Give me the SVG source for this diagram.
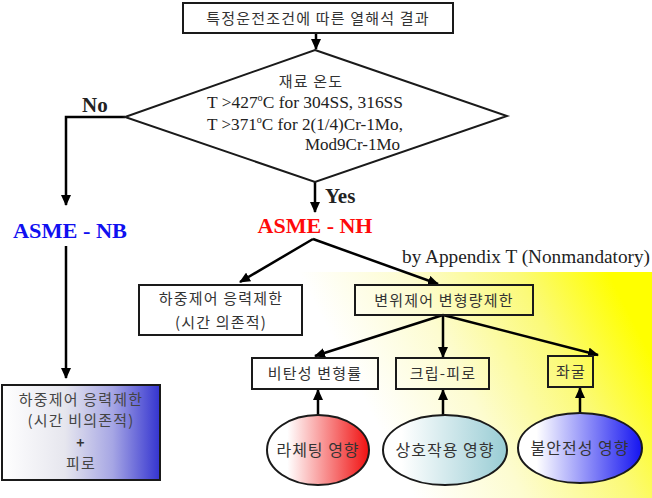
<svg xmlns="http://www.w3.org/2000/svg" width="652" height="498" viewBox="0 0 652 498">
<style>
.box{fill:none;stroke:#1a1a1a;stroke-width:2}
.kr{font-family:"Noto Sans CJK KR","Noto Sans",sans-serif;font-size:15px;fill:#333;text-anchor:middle;letter-spacing:1.2px}
.tm{font-family:"Liberation Serif",serif;fill:#222}
.bold{font-weight:bold}
.conn{stroke:#000;stroke-width:2.5;fill:none}
</style>
<defs>
<marker id="ah" markerUnits="userSpaceOnUse" markerWidth="12" markerHeight="10" refX="10" refY="5" orient="auto">
<path d="M0,0 L11,5 L0,10 Z" fill="#000"/>
</marker>
<linearGradient id="yel" gradientUnits="userSpaceOnUse" x1="360" y1="498" x2="648" y2="350">
<stop offset="0" stop-color="#ffffff"/>
<stop offset="0.15" stop-color="#ffffff"/>
<stop offset="0.45" stop-color="#fdfcd0"/>
<stop offset="0.75" stop-color="#fbfa78"/>
<stop offset="1" stop-color="#ffff00"/>
</linearGradient>
<linearGradient id="blue" x1="0" y1="0" x2="1" y2="0">
<stop offset="0" stop-color="#ffffff"/>
<stop offset="0.4" stop-color="#e6e6ee"/>
<stop offset="0.7" stop-color="#a6a6e4"/>
<stop offset="1" stop-color="#3434d0"/>
</linearGradient>
<linearGradient id="red" x1="0" y1="0" x2="1" y2="0">
<stop offset="0.2" stop-color="#ffffff"/>
<stop offset="1" stop-color="#f01010"/>
</linearGradient>
<linearGradient id="teal" x1="0" y1="0" x2="1" y2="0">
<stop offset="0.15" stop-color="#ffffff"/>
<stop offset="1" stop-color="#98ccd4"/>
</linearGradient>
<linearGradient id="blu2" x1="0" y1="0" x2="1" y2="0">
<stop offset="0.15" stop-color="#ffffff"/>
<stop offset="1" stop-color="#1414f0"/>
</linearGradient>
</defs>
<rect width="652" height="498" fill="#fff"/>
<rect x="170" y="272" width="482" height="226" fill="url(#yel)"/>

<g id="connectors">
<line class="conn" x1="316" y1="33" x2="316" y2="49" marker-end="url(#ah)"/>
<polyline class="conn" points="125,117 66,117 66,205" marker-end="url(#ah)"/>
<line class="conn" x1="66" y1="246" x2="66" y2="378" marker-end="url(#ah)"/>
<line class="conn" x1="315" y1="182" x2="315" y2="212" marker-end="url(#ah)"/>
<line class="conn" x1="313" y1="239" x2="240" y2="282" marker-end="url(#ah)"/>
<line class="conn" x1="313" y1="239" x2="438" y2="284" marker-end="url(#ah)"/>
<line class="conn" x1="443" y1="315" x2="315" y2="356" marker-end="url(#ah)"/>
<line class="conn" x1="443" y1="315" x2="443" y2="357" marker-end="url(#ah)"/>
<line class="conn" x1="443" y1="315" x2="598" y2="355" marker-end="url(#ah)"/>
<line class="conn" x1="318" y1="415" x2="318" y2="390" marker-end="url(#ah)"/>
<line class="conn" x1="443" y1="415" x2="443" y2="390" marker-end="url(#ah)"/>
<line class="conn" x1="580" y1="413" x2="580" y2="388" marker-end="url(#ah)"/>
</g>

<g id="n-top">
<rect class="box" x="183" y="3" width="270" height="30" fill="#fff"/>
<text class="kr" x="318" y="24">특정운전조건에 따른 열해석 결과</text>
</g>

<g id="n-diamond">
<polygon points="315,50 507,116 315,182 125,117" fill="#fff" stroke="#1a1a1a" stroke-width="2"/>
<text class="kr" x="311" y="87">재료 온도</text>
<text class="tm" x="207" y="108" font-size="17" textLength="196" lengthAdjust="spacingAndGlyphs">T &gt;427<tspan font-size="10" dy="-7">o</tspan><tspan dy="7">C for 304SS, 316SS</tspan></text>
<text class="tm" x="207" y="130" font-size="17" textLength="196" lengthAdjust="spacingAndGlyphs">T &gt;371<tspan font-size="10" dy="-7">o</tspan><tspan dy="7">C for 2(1/4)Cr-1Mo,</tspan></text>
<text class="tm" x="305" y="150" font-size="17" textLength="95" lengthAdjust="spacingAndGlyphs">Mod9Cr-1Mo</text>
</g>

<g id="l-no"><text class="tm bold" x="82" y="112" font-size="21" fill="#000">No</text></g>
<g id="l-yes"><text class="tm bold" x="325" y="203" font-size="21">Yes</text></g>

<g id="n-nb"><text class="tm bold" x="70" y="238" font-size="22" text-anchor="middle" style="fill:#1010f0" textLength="114" lengthAdjust="spacingAndGlyphs">ASME - NB</text></g>
<g id="n-nh"><text class="tm bold" x="315" y="233" font-size="22" text-anchor="middle" style="fill:#ff0a0a" textLength="115" lengthAdjust="spacingAndGlyphs">ASME - NH</text></g>

<g id="l-appendix"><text class="tm" x="402" y="263" font-size="19" textLength="248" lengthAdjust="spacingAndGlyphs">by Appendix T (Nonmandatory)</text></g>

<g id="n-load">
<rect class="box" x="139" y="285" width="163" height="50" fill="#fff"/>
<text class="kr" x="221" y="304">하중제어 응력제한</text>
<text class="kr" x="221" y="328">(시간 의존적)</text>
</g>

<g id="n-disp">
<rect class="box" x="355" y="285" width="178" height="30"/>
<text class="kr" x="444" y="306">변위제어 변형량제한</text>
</g>

<g id="n-inel">
<rect class="box" x="252" y="358" width="126" height="31"/>
<text class="kr" x="315" y="379">비탄성 변형률</text>
</g>

<g id="n-creep">
<rect class="box" x="396" y="358" width="93" height="31"/>
<text class="kr" x="443" y="379">크립-피로</text>
</g>

<g id="n-buck">
<rect class="box" x="548" y="356" width="45" height="31"/>
<text class="kr" x="571" y="377">좌굴</text>
</g>

<g id="n-nbbox">
<rect x="2" y="385" width="158" height="95" fill="url(#blue)" stroke="#1a1a1a" stroke-width="2"/>
<text class="kr" x="81" y="405" style="fill:#444">하중제어 응력제한</text>
<text class="kr" x="81" y="426" style="fill:#444">(시간 비의존적)</text>
<text class="kr" x="81" y="448" style="fill:#333;font-weight:bold;font-size:14px">+</text>
<text class="kr" x="81" y="469" style="fill:#444">피로</text>
</g>

<g id="n-ratchet">
<ellipse cx="318" cy="450" rx="51" ry="35" fill="url(#red)" stroke="#1a1a1a" stroke-width="2"/>
<text class="kr" x="318" y="456" style="font-size:16px;letter-spacing:1px">라체팅 영향</text>
</g>

<g id="n-inter">
<ellipse cx="445" cy="450" rx="62" ry="35" fill="url(#teal)" stroke="#1a1a1a" stroke-width="2"/>
<text class="kr" x="445" y="456" style="font-size:16px;letter-spacing:1px">상호작용 영향</text>
</g>

<g id="n-instab">
<ellipse cx="580" cy="448" rx="62" ry="35" fill="url(#blu2)" stroke="#1a1a1a" stroke-width="2"/>
<text class="kr" x="580" y="454" style="font-size:16px;letter-spacing:1px">불안전성 영향</text>
</g>
</svg>
